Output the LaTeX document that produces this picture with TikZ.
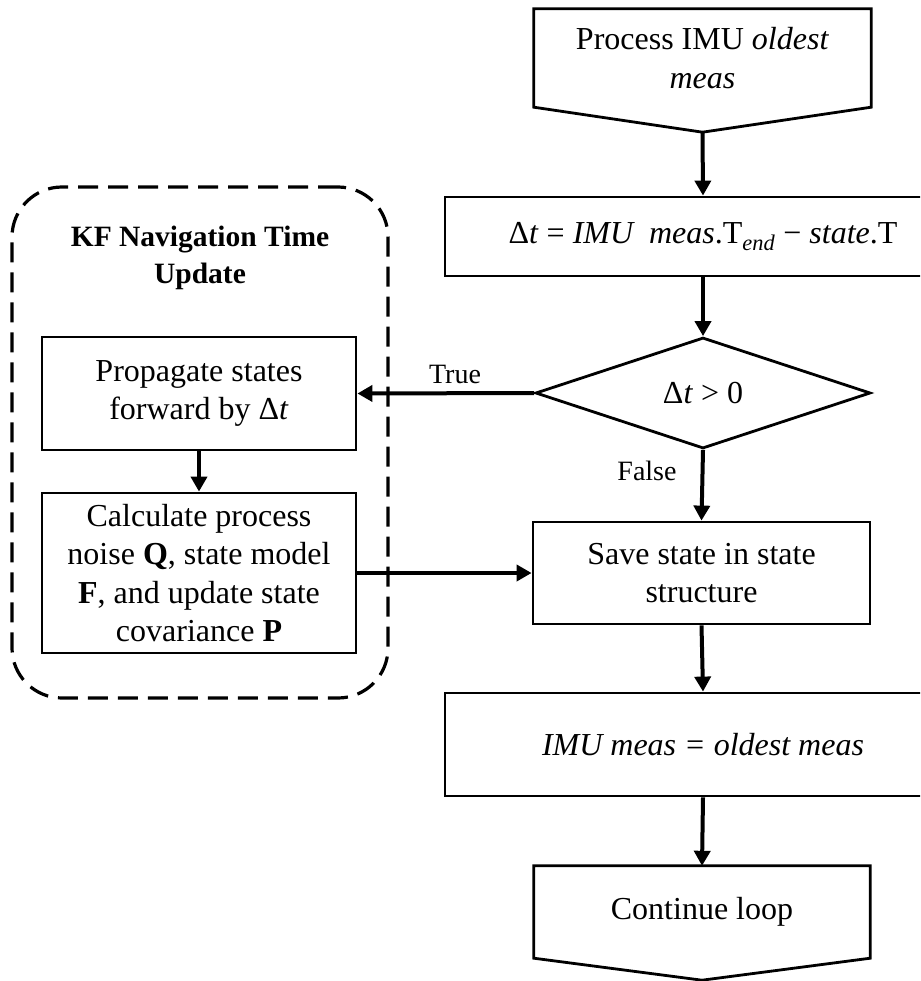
\documentclass[tikz,border=0pt]{standalone}
\usepackage{fontspec}
\setmainfont{Liberation Serif}
\usetikzlibrary{arrows.meta,shapes.geometric,calc}
\tikzset{
  boxline/.style={draw=black,line width=2.8pt},
  txt/.style={align=center,font=\fontsize{32}{38.5}\selectfont,inner sep=0pt},
  arr/.style={line width=4pt,-{Triangle[length=15pt,width=16pt]}},
  lbl/.style={font=\fontsize{28}{33}\selectfont,inner sep=0pt}
}
\begin{document}
\begin{tikzpicture}[x=1pt,y=-1pt]
\useasboundingbox (0,0) rectangle (920,981);
\clip (0,0) rectangle (920,981);
% start pentagon
\node[txt,minimum width=337pt,minimum height=98pt] (start) at (702.5,58) {Process IMU \textit{oldest}\\\textit{meas}};
\coordinate (starttip) at ($(start.south)+(0,25)$);
\draw[boxline,line join=miter] (start.north west) -- (start.north east) -- (start.south east) -- (starttip) -- (start.south west) -- cycle;
% dt box
\node[txt,boxline,minimum width=516pt,minimum height=79pt] (dt) at (703,236.5)
 {Δ\textit{t} = \textit{IMU\ \ meas}.T\textsubscript{\textit{end}} − \textit{state}.T};
% diamond
\node[txt,boxline,diamond,aspect=3,minimum width=335pt,minimum height=111pt] (dec) at (703,393) {Δ\textit{t} > 0};
% save box
\node[txt,boxline,minimum width=337pt,minimum height=102pt] (save) at (701.5,573) {Save state in state\\structure};
% imu meas box
\node[txt,boxline,minimum width=516pt,minimum height=103pt] (imu) at (703,744.5) {\textit{IMU meas = oldest meas}};
% continue pentagon
\node[txt,minimum width=336pt,minimum height=92pt] (cont) at (702,912) {Continue loop};
\coordinate (conttip) at ($(cont.south)+(0,22)$);
\draw[boxline,line join=miter] (cont.north west) -- (cont.north east) -- (cont.south east) -- (conttip) -- (cont.south west) -- cycle;
% container
\node[draw=black,line width=3.2pt,dash pattern=on 20pt off 10pt,rounded corners=50pt,minimum width=376pt,minimum height=511pt,inner sep=0pt] (kf) at (200,442.5) {};
\node[txt,font=\fontsize{29.5}{37}\selectfont\bfseries] (title) at (200,258) {KF Navigation Time\\Update};
\node[txt,boxline,minimum width=314pt,minimum height=113pt] (prop) at (199,393.5) {Propagate states\\forward by Δ\textit{t}};
\node[txt,boxline,minimum width=314pt,minimum height=160pt] (calc) at (199,573) {Calculate process\\noise \textbf{Q}, state model\\\textbf{F}, and update state\\covariance \textbf{P}};
% connectors
\draw[arr] (starttip) -- (dt.north);
\draw[arr] (dt.south) -- (dec.north);
\draw[arr] (dec.west) -- (prop.east);
\draw[arr] (dec.south) -- (save.north);
\draw[arr] (prop.south) -- (calc.north);
\draw[arr] (calc.east) -- (save.west);
\draw[arr] (save.south) -- (imu.north);
\draw[arr] (imu.south) -- (cont.north);
% labels
\node[lbl] (truelbl) at (455,374) {True};
\node[lbl] (falselbl) at (647,471) {False};
\end{tikzpicture}
\end{document}
